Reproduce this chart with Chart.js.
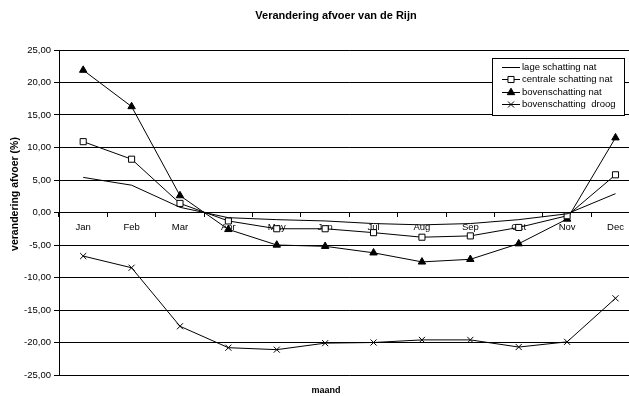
<!DOCTYPE html>
<html>
<head>
<meta charset="utf-8">
<script src="https://cdn.jsdelivr.net/npm/chart.js@4/dist/chart.umd.min.js"></script>
<style>
  html, body { margin: 0; padding: 0; background: #fff; overflow: hidden; width: 629px; height: 396px; }
  canvas { display: block; }
</style>
</head>
<body>
<canvas id="c" width="645" height="396"></canvas>
<script>
// Monthly change in Rhine discharge (%) for four scenarios
const months = ['Jan', 'Feb', 'Mar', 'Apr', 'May', 'Jun', 'Jul', 'Aug', 'Sep', 'Oct', 'Nov', 'Dec'];
const lageNat      = [5.4, 4.2, 0.8, -0.8, -1.1, -1.3, -1.7, -1.9, -1.7, -1.1, -0.2, 2.9];
const centraleNat  = [10.9, 8.2, 1.4, -1.3, -2.5, -2.5, -3.1, -3.8, -3.6, -2.3, -0.5, 5.8];
const bovenNat     = [21.9, 16.3, 2.6, -2.6, -5.0, -5.2, -6.2, -7.6, -7.2, -4.8, -1.0, 11.5];
const bovenDroog   = [-6.7, -8.5, -17.5, -20.8, -21.1, -20.1, -20.0, -19.6, -19.6, -20.7, -19.9, -13.2];
const seriesNames  = ['lage schatting nat', 'centrale schatting nat', 'bovenschatting nat', 'bovenschatting  droog'];
const yMin = -25, yMax = 25, yStep = 5;

const FONT = '"Liberation Sans", Arial, sans-serif';

function series(label, data, style, fill) {
  return {
    label, data,
    borderColor: '#000', borderWidth: 1, backgroundColor: fill,
    pointStyle: style || 'circle',
    pointRadius: style ? 4.3 : 0,
    pointHoverRadius: style ? 4.3 : 0,
    pointBorderColor: '#000', pointBackgroundColor: fill, pointBorderWidth: 1,
    tension: 0, fill: false
  };
}

// Titles and the boxed legend
const decorations = {
  id: 'decorations',
  afterDraw(chart) {
    const ctx = chart.ctx;
    ctx.save();
    ctx.fillStyle = '#000';
    ctx.textAlign = 'center';
    ctx.textBaseline = 'middle';
    ctx.font = 'bold 11px ' + FONT;
    ctx.fillText('Verandering afvoer van de Rijn', 336, 16);
    ctx.font = 'bold 9px ' + FONT;
    ctx.fillText('maand', 326, 391);
    ctx.font = 'bold 10.5px ' + FONT;
    ctx.translate(15, 194);
    ctx.rotate(-Math.PI / 2);
    ctx.fillText('verandering afvoer (%)', 0, 0);
    ctx.restore();

    // legend
    const bx = 492.5, by = 58.5, bw = 132, bh = 57;
    ctx.save();
    ctx.fillStyle = '#fff';
    ctx.fillRect(bx, by, bw, bh);
    ctx.strokeStyle = '#000';
    ctx.lineWidth = 1;
    ctx.strokeRect(bx, by, bw, bh);
    ctx.font = '9.5px ' + FONT;
    ctx.textAlign = 'left';
    ctx.textBaseline = 'middle';
    chart.data.datasets.forEach((ds, i) => {
      const y = Math.round(by + 8.5 + i * 12.3) + 0.5;
      ctx.strokeStyle = '#000';
      ctx.beginPath();
      ctx.moveTo(502, y);
      ctx.lineTo(520, y);
      ctx.stroke();
      if (ds.pointRadius > 0) {
        ctx.fillStyle = ds.pointBackgroundColor;
        ctx.strokeStyle = '#000';
        Chart.helpers.drawPoint(ctx, { pointStyle: ds.pointStyle, radius: ds.pointRadius, rotation: 0, borderWidth: 1 }, 511, y);
      }
      ctx.fillStyle = '#000';
      ctx.fillText(ds.label, 522, y);
    });
    ctx.restore();
  }
};

new Chart(document.getElementById('c'), {
  type: 'line',
  data: {
    labels: months,
    datasets: [
      series(seriesNames[0], lageNat, null, '#000'),
      series(seriesNames[1], centraleNat, 'rect', '#fff'),
      series(seriesNames[2], bovenNat, 'triangle', '#000'),
      series(seriesNames[3], bovenDroog, 'crossRot', '#000')
    ]
  },
  options: {
    responsive: false,
    devicePixelRatio: 1,
    animation: false,
    layout: { padding: { left: 0, top: 50, right: 3, bottom: 21 } },
    plugins: { legend: { display: false }, title: { display: false }, tooltip: { enabled: false } },
    scales: {
      x: {
        type: 'category',
        position: { y: 0 },
        offset: true,
        afterFit(scale) { scale.height = 0; },
        grid: { display: true, drawOnChartArea: false, drawTicks: true, tickLength: 4, offset: true, color: '#000', lineWidth: 1 },
        border: { display: true, color: '#000', width: 1 },
        ticks: { color: '#000', font: { family: FONT, size: 9.5 }, padding: 5, maxRotation: 0, autoSkip: false }
      },
      y: {
        min: yMin, max: yMax,
        afterFit(scale) { scale.width = 59; },
        grid: { color: '#000', lineWidth: 1, drawTicks: true, tickLength: 5 },
        border: { display: true, color: '#000', width: 1 },
        ticks: {
          stepSize: yStep, color: '#000', padding: 3,
          font: { family: FONT, size: 9.5 },
          callback: v => v.toFixed(2).replace('.', ',')
        }
      }
    }
  },
  plugins: [decorations]
});
</script>
</body>
</html>
